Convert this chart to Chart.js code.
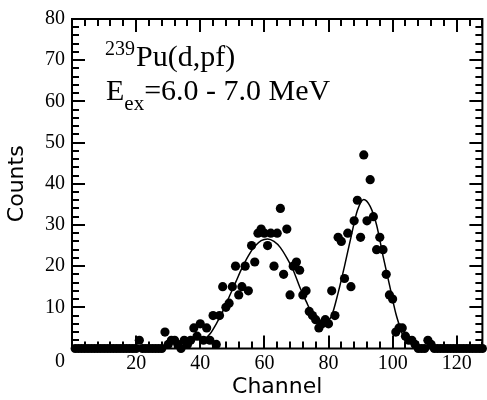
<!DOCTYPE html>
<html>
<head>
<meta charset="utf-8">
<script src="https://cdn.jsdelivr.net/npm/chart.js@4.4.0/dist/chart.umd.min.js"></script>
<style>
  body { margin: 0; background: #fff; }
  canvas { display: block; }
</style>
</head>
<body>
<canvas id="spectre" width="487" height="400"></canvas>
<script>
const canva = document.querySelector("#spectre");

// measured counts per channel (1..128)
const channels = [];
for (let c = 1; c <= 128; c++) channels.push(c);
const counts = [
  0,0,0,0,0,0,0,0,0,0, 0,0,0,0,0,0,0,0,0,0,   // 1-20
  2,0,0,0,0,0,0,0,4,1, 2,2,1,0,2,1,2,5,3,6,   // 21-40
  2,5,2,8,1,8,15,10,11,15, 20,13,15,20,14,25,21,28,29,28, // 41-60
  25,28,20,28,34,18,29,13,20,21, 19,13,14,9,8,7,5,6,7,6, // 61-80
  14,8,27,26,17,28,15,31,36,27, 47,31,41,32,24,27,24,18,13,12, // 81-100
  4,5,5,3,2,2,1,0,0,0, 2,1,0,0,0,0,0,0,0,0,   // 101-120
  0,0,0,0,0,0,0,0                              // 121-128
];

// fit curve
const fitChannels = [41,43,45,47,49,51,53,55,57,59,61,63,65,67,69,71,73,75,77,79,81,83,85,87,89,91,93,95,97,99,101,103];
const fitCounts   = [2,3.5,6,9,12.5,16,19.5,22.5,24.8,26.2,26.6,26,24.5,22,19,15,11.5,8.2,6.2,6.3,8,13.5,20,27,33.5,36.2,34.5,30,22.5,15.5,8.5,3.5];

const xTicks = [0,20,40,60,80,100,120];
const yTicks = [0,10,20,30,40,50,60,70,80];

const titreHaut = "Pu(d,pf)";
const isotope = "239";
const energie = "=6.0 - 7.0 MeV";

const serif = '"Liberation Serif", "Times New Roman", serif';

const cadre = {
  id: "cadre",
  afterDraw(chart) {
    const ctx = chart.ctx;
    const a = chart.chartArea;
    const sx = chart.scales.x;
    const sy = chart.scales.y;
    ctx.save();
    ctx.fillStyle = "#000";
    ctx.strokeStyle = "#000";
    ctx.lineWidth = 2;
    ctx.strokeRect(a.left, a.top, a.right - a.left, a.bottom - a.top);
    // tick marks pointing inwards, on all four sides
    for (let v = 0; v <= sx.max; v += 4) {
      const px = Math.round(sx.getPixelForValue(v));
      const len = v % 20 === 0 ? 13 : 7;
      ctx.fillRect(px - 1, a.bottom - len, 2, len);
      ctx.fillRect(px - 1, a.top, 2, len);
    }
    for (let v = 0; v <= sy.max; v += 2) {
      const py = Math.round(sy.getPixelForValue(v));
      const len = v % 10 === 0 ? 13 : 7;
      ctx.fillRect(a.left, py - 1, len, 2);
      ctx.fillRect(a.right - len, py - 1, len, 2);
    }

    // the lone "0" at the corner
    ctx.font = "20px " + serif;
    ctx.textAlign = "right";
    ctx.textBaseline = "alphabetic";
    ctx.fillText("0", a.left - 7, 367);

    // annotation
    ctx.textAlign = "left";
    ctx.font = "20px " + serif;
    ctx.fillText(isotope, 105, 55);
    ctx.font = "30px " + serif;
    ctx.fillText(titreHaut, 136, 66);
    ctx.fillText("E", 106, 100);
    const w = ctx.measureText("E").width;
    ctx.font = "21px " + serif;
    ctx.fillText("ex", 106 + w, 110);
    const w2 = ctx.measureText("ex").width;
    ctx.font = "30px " + serif;
    ctx.fillText(energie, 106 + w + w2, 100);
    ctx.restore();
  }
};

const chart = new Chart(canva, {
  type: "scatter",
  data: {
    datasets: [{
      data: fitChannels.map((c, i) => ({x: c, y: fitCounts[i]})),
      showLine: true,
      borderColor: "#000",
      borderWidth: 1.5,
      pointRadius: 0,
      cubicInterpolationMode: "monotone"
    }, {
      data: channels.map((c, i) => ({x: c, y: counts[i]})),
      backgroundColor: "#000",
      borderColor: "#000",
      pointRadius: 4.6,
      pointBorderWidth: 0,
      clip: false
    }]
  },
  options: {
    responsive: false,
    animation: false,
    devicePixelRatio: 1,
    layout: { padding: { top: 17, right: 2, left: 0, bottom: 0 } },
    plugins: { legend: { display: false }, tooltip: { enabled: false } },
    scales: {
      x: {
        type: "linear",
        min: 0, max: 128,
        afterBuildTicks: s => { s.ticks = xTicks.map(v => ({value: v})); },
        afterFit: s => { s.height = 51.5; },
        grid: { display: false, drawTicks: false },
        border: { display: false },
        ticks: {
          padding: 3,
          color: "#000",
          font: { family: serif, size: 20 },
          callback: v => v === 0 ? "" : v
        },
        title: {
          display: true, text: "Channel", color: "#000",
          font: { family: '"DejaVu Sans", sans-serif', size: 22 },
          padding: { top: 0, bottom: 0 }
        }
      },
      y: {
        min: 0, max: 80,
        afterBuildTicks: s => { s.ticks = yTicks.map(v => ({value: v})); },
        afterFit: s => { s.width = 72; },
        grid: { display: false, drawTicks: false },
        border: { display: false },
        ticks: {
          padding: 7,
          color: "#000",
          font: { family: serif, size: 20 },
          callback: v => v === 0 ? "" : v
        },
        title: {
          display: true, text: "Counts", color: "#000",
          font: { family: '"DejaVu Sans", sans-serif', size: 22 },
          padding: { top: 4, bottom: 0 }
        }
      }
    }
  },
  plugins: [cadre]
});
</script>
</body>
</html>
